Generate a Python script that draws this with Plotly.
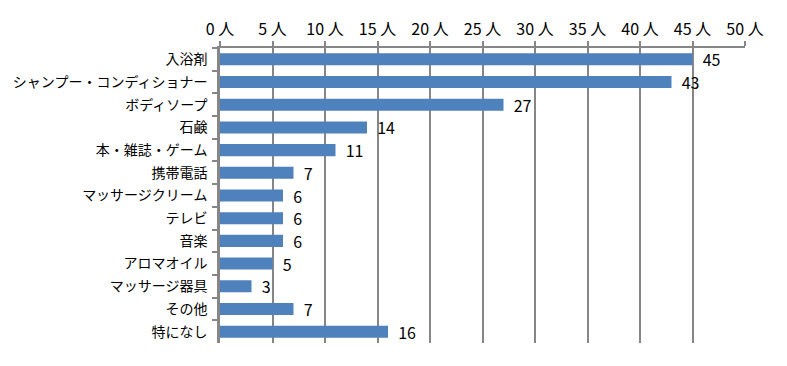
import plotly.graph_objects as go

categories = ["入浴剤", "シャンプー・コンディショナー", "ボディソープ", "石鹸", "本・雑誌・ゲーム",
              "携帯電話", "マッサージクリーム", "テレビ", "音楽", "アロマオイル",
              "マッサージ器具", "その他", "特になし"]
values = [45, 43, 27, 14, 11, 7, 6, 6, 6, 5, 3, 7, 16]
tick_vals = [0, 5, 10, 15, 20, 25, 30, 35, 40, 45, 50]
tick_text = [f"{v} 人" for v in tick_vals]

FONT = "Noto Sans CJK JP"

fig = go.Figure(go.Bar(
    y=categories, x=values, orientation="h",
    marker=dict(color="#4F81BD", line=dict(width=0)),
    text=values, texttemplate="  %{text}", textposition="outside",
    constraintext="none",
    textfont=dict(family=FONT, size=16, color="#000000"),
    cliponaxis=False, width=0.53,
))

fig.update_layout(
    width=779, height=358,
    margin=dict(l=212, r=42, t=40, b=23, autoexpand=False),
    paper_bgcolor="white", plot_bgcolor="white",
    font=dict(family=FONT, size=14, color="#000000"),
    showlegend=False,
    xaxis=dict(
        side="top", range=[0, 50], tickvals=tick_vals, ticktext=tick_text,
        showgrid=True, gridcolor="#868686", gridwidth=1.5,
        ticks="outside", ticklen=5, tickcolor="#868686", tickwidth=1.5,
        showline=True, linecolor="#868686", linewidth=2,
        tickfont=dict(family=FONT, size=16), zeroline=False, automargin=False,
    ),
    yaxis=dict(
        categoryorder="array", categoryarray=categories, autorange="reversed",
        tickson="boundaries", ticks="outside", ticklen=5, tickcolor="#868686", tickwidth=1.5,
        showline=True, linecolor="#868686", linewidth=2.5, showgrid=False,
        tickfont=dict(family=FONT, size=14), ticklabelstandoff=7, automargin=False,
    ),
    bargap=0.47,
)

fig.write_html("out.html")
